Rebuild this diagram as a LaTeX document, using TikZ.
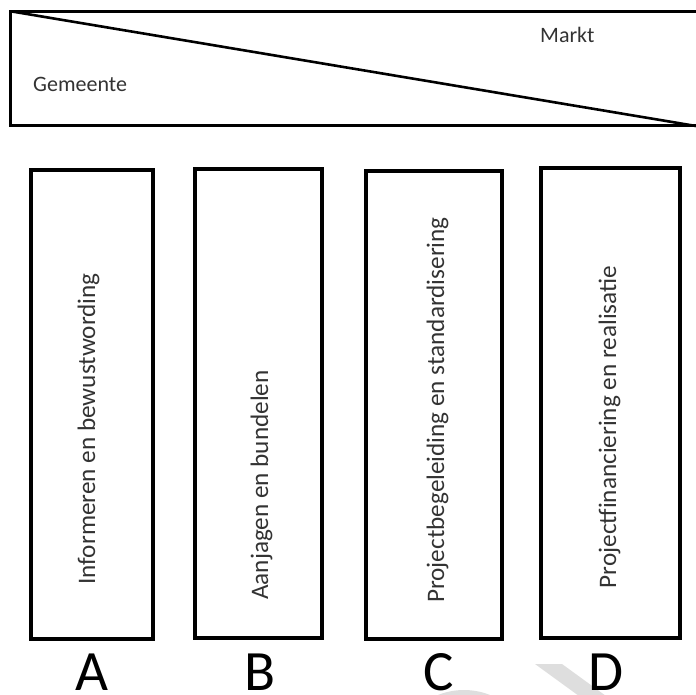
\documentclass[tikz,border=0pt]{standalone}
\usepackage{fontspec}
\setmainfont{Carlito}
\begin{document}
\begin{tikzpicture}[x=1pt,y=-1pt,
  banner/.style={line width=3pt,draw=black},
  pillar/.style={line width=4pt,draw=black,line join=miter},
  pillartext/.style={rotate=90,anchor=base,font=\fontsize{25.2}{30}\selectfont,text=black!80,inner sep=0pt},
  bannertext/.style={anchor=base west,font=\fontsize{22}{26}\selectfont,text=black!80,inner sep=0pt},
  letter/.style={anchor=base,font=\fontsize{57}{60}\selectfont,text=black,inner sep=0pt},
  wm/.style={fill=black!13,draw=none}]
\useasboundingbox (0,0) rectangle (696,695);
% watermark remnants
\fill[wm] (535,664) -- (562,664) -- (606,696) -- (579,696) -- cycle;
\begin{scope}
  \clip (0,0) rectangle (696,695);
  \fill[wm] (464,760) circle[radius=70];
  \fill[white] (464,760) circle[radius=58];
\end{scope}
% banner
\coordinate (tl) at (10.5,11.5);
\coordinate (tr) at (697,11.5);
\coordinate (bl) at (10.5,126);
\coordinate (br) at (697,126);
\draw[banner] (tr) -- (tl) -- (bl) -- (br);
\draw[banner,line width=2.6pt] (12,11.5) -- (696,126);
\node[bannertext] (gem) at (33,92) {Gemeente};
\node[bannertext] (markt) at (540,43) {Markt};
% pillars
\draw[pillar] (31,170) rectangle (153,639);
\draw[pillar] (195,169) rectangle (322,638);
\draw[pillar] (366,171) rectangle (502,639);
\draw[pillar] (541,168) rectangle (680,637.5);
\node[pillartext] (ta) at (95,429) {Informeren en bewustwording};
\node[pillartext] (tb) at (268,485) {Aanjagen en bundelen};
\node[pillartext] (tc) at (444,410) {Projectbegeleiding en standardisering};
\node[pillartext] (td) at (616,427) {Projectfinanciering en realisatie};
% letters
\node[letter] (la) at (91.5,690.5) {A};
\node[letter] (lb) at (259.5,690.5) {B};
\node[letter] (lc) at (438.5,690.5) {C};
\node[letter] (ld) at (606,690.5) {D};
\end{tikzpicture}
\end{document}
